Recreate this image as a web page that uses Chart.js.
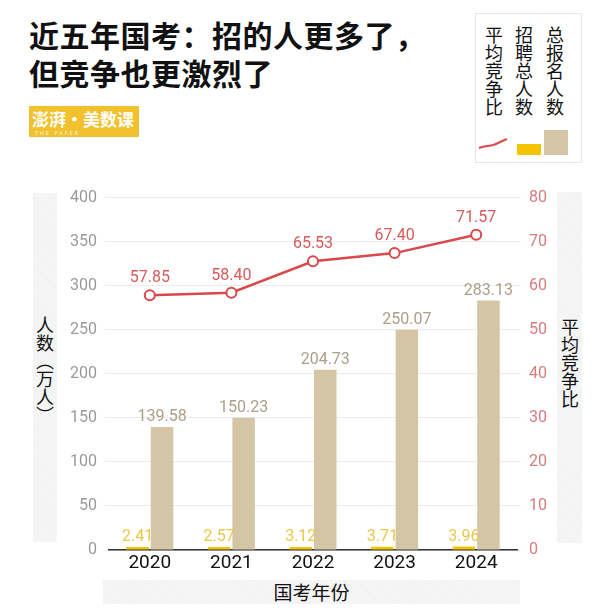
<!DOCTYPE html>
<html>
<head>
<meta charset="utf-8">
<script src="https://cdn.jsdelivr.net/npm/chart.js@4.4.1/dist/chart.umd.min.js"></script>
<style>
  html, body { margin:0; padding:0; background:#fff; }
  body { width:604px; height:612px; position:relative; overflow:hidden; font-family:"Noto Sans CJK SC", sans-serif; }
  .title { position:absolute; left:29px; top:15px; font-size:30px; font-weight:bold; line-height:38px; color:#111; letter-spacing:0.5px; }
  .logo { position:absolute; left:29px; top:106px; width:110px; height:31px; background:#f2c12e; color:#fff; overflow:hidden; }
  .logo .main { position:absolute; left:3px; top:1px; font-size:17px; font-weight:bold; line-height:24px; white-space:nowrap; }
  .logo .sub { position:absolute; left:6px; top:24px; font-size:5px; line-height:6px; font-family:"DejaVu Sans"; letter-spacing:2px; opacity:0.85; }
  .legend { position:absolute; left:475px; top:13px; width:107px; height:150px; border:1px solid #e6e6e6; box-sizing:border-box; }
  .vtext { position:absolute; writing-mode:vertical-rl; text-orientation:upright; font-size:18px; line-height:18px; color:#111; }
  .band { position:absolute; background:#f4f4f4; background-image:repeating-linear-gradient(45deg, #f1f1f1 0 1px, #f6f6f6 1px 3px); }
  .chartwrap { position:absolute; left:0; top:180px; width:604px; height:400px; }
  .xtitle { position:absolute; left:103px; top:580px; width:417px; height:24px; text-align:center; font-size:19px; line-height:24px; color:#111; }
</style>
</head>
<body>
<div class="title">近五年国考：招的人更多了，<br>但竞争也更激烈了</div>
<div class="logo"><div class="main">澎湃·美数课</div><div class="sub">THE PAPER</div></div>

<div class="legend">
  <div class="vtext" style="left:9px; top:12px;">平均竞争比</div>
  <div class="vtext" style="left:39px; top:12px;">招聘总人数</div>
  <div class="vtext" style="left:70px; top:12px;">总报名人数</div>
  <svg style="position:absolute; left:0; top:0;" width="107" height="150">
    <path d="M3 134 C 10 131, 14 133, 20 130 S 28 126, 31 125" stroke="#d9484b" stroke-width="2" fill="none"/>
    <rect x="41" y="130" width="24" height="11" fill="#f5c400"/>
    <rect x="68" y="116" width="24" height="25" fill="#d4c5a6"/>
  </svg>
</div>

<div class="band" style="left:33px; top:193px; width:24px; height:349px;"></div>
<div class="vtext" style="left:36px; top:316px; font-size:18px;">人数（万人）</div>
<div class="band" style="left:557px; top:192px; width:25px; height:351px;"></div>
<div class="vtext" style="left:561px; top:318px;">平均竞争比</div>
<div class="band" style="left:103px; top:580px; width:417px; height:24px;"></div>
<div class="xtitle">国考年份</div>

<div class="chartwrap"><canvas id="c" width="604" height="400"></canvas></div>

<script>
const years = ['2020', '2021', '2022', '2023', '2024'];
const recruits = [2.41, 2.57, 3.12, 3.71, 3.96];
const applicants = [139.58, 150.23, 204.73, 250.07, 283.13];
const ratio = [57.85, 58.40, 65.53, 67.40, 71.57];

const labelPlugin = {
  id: 'valueLabels',
  afterDatasetsDraw(chart) {
    const ctx = chart.ctx;
    ctx.save();
    ctx.textAlign = 'center';
    ctx.textBaseline = 'bottom';
    chart.data.datasets.forEach((ds, i) => {
      const meta = chart.getDatasetMeta(i);
      meta.data.forEach((el, j) => {
        const v = ds.data[j];
        const txt = v.toFixed(2);
        ctx.font = '16px Roboto, "Noto Sans", sans-serif';
        if (ds.type === 'line') {
          ctx.fillStyle = '#d85a5c';
          ctx.fillText(txt, el.x, el.y - 9);
        } else {
          ctx.fillStyle = ds.labelColor;
          ctx.fillText(txt, el.x, el.y - 2);
        }
      });
    });
    ctx.restore();
  }
};

new Chart(document.getElementById('c'), {
  data: {
    labels: years,
    datasets: [
      {
        type: 'line', label: '平均竞争比', data: ratio, yAxisID: 'y1', order: 0,
        borderColor: '#d9484b', borderWidth: 2.5, pointRadius: 5, pointBorderWidth: 2,
        pointBackgroundColor: '#fff', pointBorderColor: '#d9484b', tension: 0
      },
      {
        type: 'bar', label: '招聘总人数', data: recruits, yAxisID: 'y', order: 1,
        backgroundColor: '#f5c400', labelColor: '#e8c84c',
        categoryPercentage: 0.6, barPercentage: 0.92, minBarLength: 3
      },
      {
        type: 'bar', label: '总报名人数', data: applicants, yAxisID: 'y', order: 1,
        backgroundColor: '#d4c5a6', labelColor: '#ab9f88',
        categoryPercentage: 0.6, barPercentage: 0.92
      }
    ]
  },
  options: {
    responsive: false,
    animation: false,
    layout: { padding: { top: 16, left: 0, right: 0, bottom: 0 } },
    plugins: { legend: { display: false }, tooltip: { enabled: false } },
    scales: {
      x: {
        grid: { display: false, drawTicks: false },
        border: { display: true, color: '#333', width: 1.5 },
        ticks: { color: '#111', font: { size: 19, family: 'Roboto, "Noto Sans", sans-serif' }, padding: 2 },
        afterFit(s) { s.height = 30; }
      },
      y: {
        position: 'left', min: 0, max: 400,
        ticks: { stepSize: 50, color: '#9a9a9a', font: { size: 16, family: 'Roboto, "Noto Sans", sans-serif' }, padding: 8 },
        grid: { color: '#ebebeb', tickLength: 4, lineWidth: 1 },
        border: { display: false },
        afterFit(s) { s.width = 109; }
      },
      y1: {
        position: 'right', min: 0, max: 80,
        ticks: { stepSize: 10, color: '#d97b7d', font: { size: 16, family: 'Roboto, "Noto Sans", sans-serif' }, padding: 8 },
        grid: { drawOnChartArea: false, tickLength: 4, color: '#ebebeb' },
        border: { display: false },
        afterFit(s) { s.width = 87; }
      }
    }
  },
  plugins: [labelPlugin]
});
</script>
</body>
</html>
